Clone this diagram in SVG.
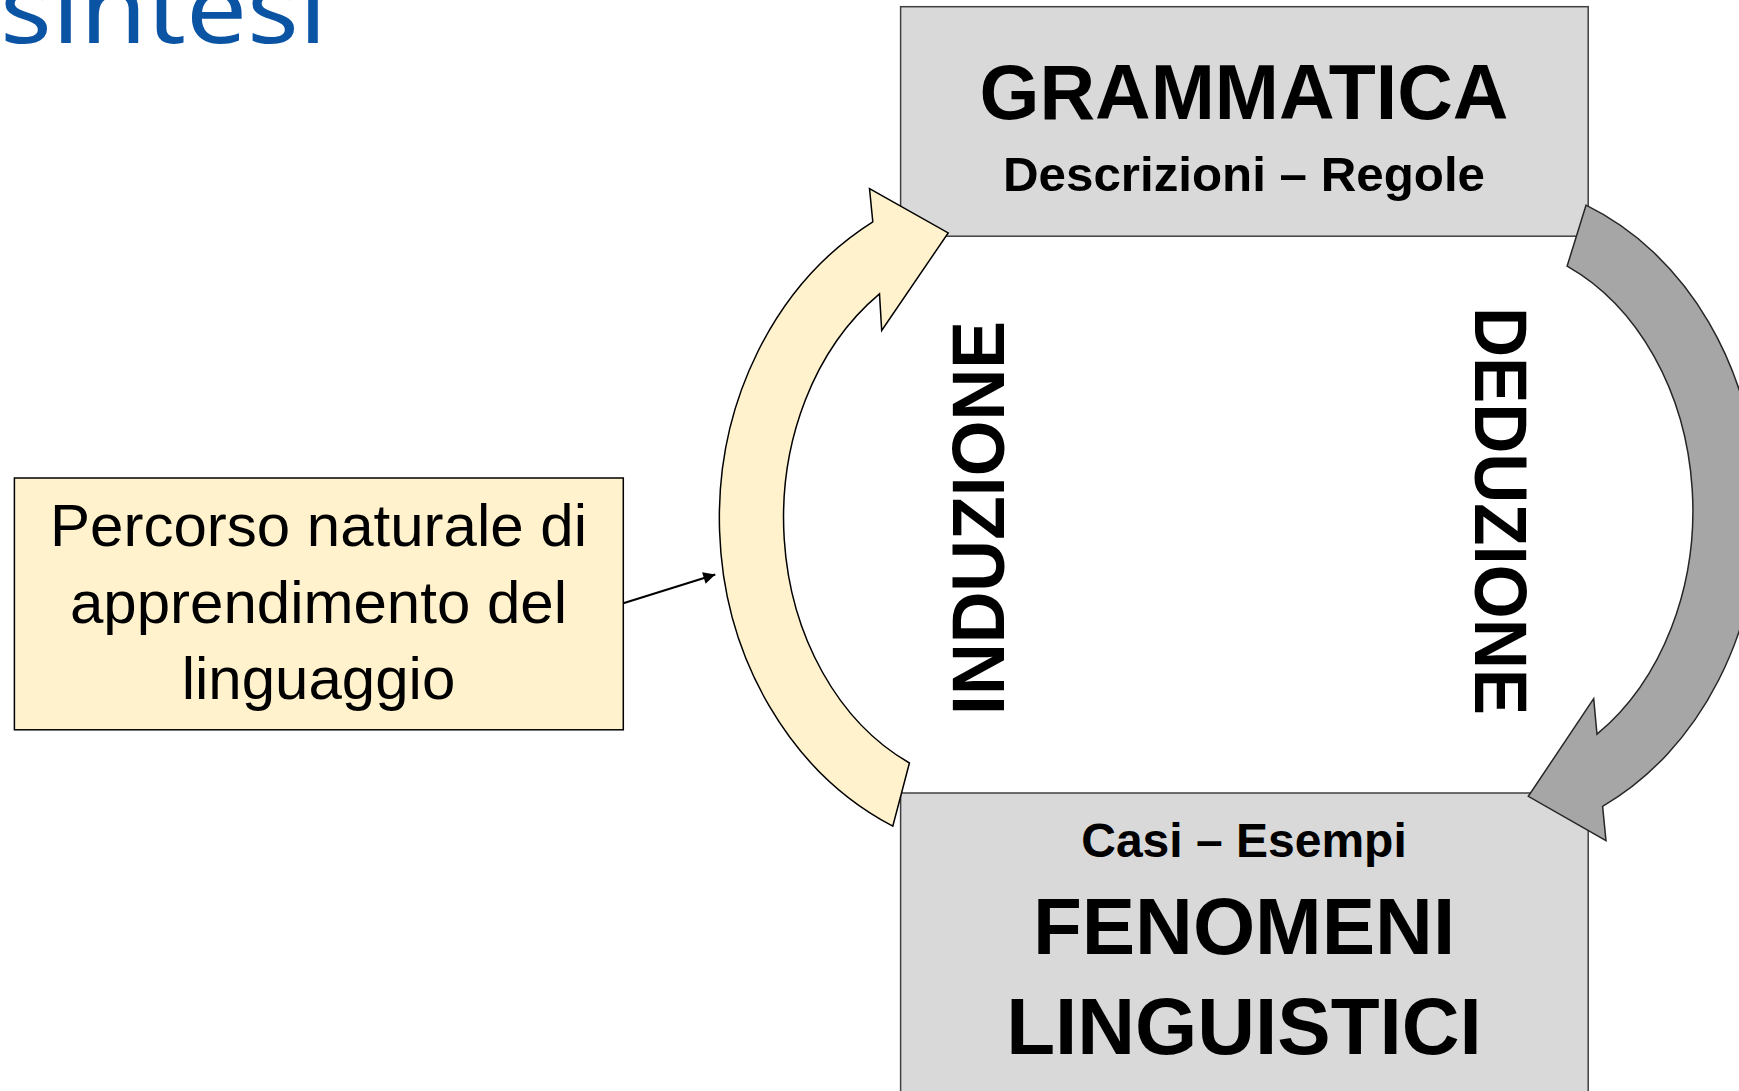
<svg xmlns="http://www.w3.org/2000/svg" width="1739" height="1091" viewBox="0 0 1739 1091">
<defs>
<style>
.box{fill:#D9D9D9;stroke:#404040;stroke-width:1.5}
.note{fill:#FFF2CC;stroke:#000;stroke-width:1.5}
.b{font-family:"Liberation Sans",Arial,sans-serif;font-weight:bold;fill:#000;text-anchor:middle}
.r{font-family:"Liberation Sans",Arial,sans-serif;fill:#000;text-anchor:middle}
.arrY{fill:#FFF2CC;stroke:#000;stroke-width:1.5;stroke-linejoin:miter}
.arrG{fill:#A6A6A6;stroke:#262626;stroke-width:1.5;stroke-linejoin:miter}
</style>
<marker id="ah2" viewBox="0 0 10 10" refX="10" refY="5" markerWidth="14" markerHeight="12" orient="auto" markerUnits="userSpaceOnUse">
<path d="M0,0 L10,5 L0,10 Z" fill="#000"/>
</marker>
</defs>
<rect width="1739" height="1091" fill="#fff"/>
<text x="0" y="43" font-family="'Noto Sans','Open Sans',sans-serif" font-size="96" fill="#0B54A4" textLength="327" lengthAdjust="spacingAndGlyphs">sintesi</text>

<g id="grammatica">
<rect class="box" x="900.6" y="6.7" width="687.6" height="229.5"/>
<text class="b" x="1244" y="119" font-size="77">GRAMMATICA</text>
<text class="b" x="1244" y="191" font-size="48" textLength="482" lengthAdjust="spacingAndGlyphs">Descrizioni – Regole</text>
</g>

<g id="fenomeni">
<rect class="box" x="900.6" y="793" width="687.6" height="320"/>
<text class="b" x="1244" y="857" font-size="48">Casi – Esempi</text>
<text class="b" x="1244" y="954" font-size="80">FENOMENI</text>
<text class="b" x="1244" y="1054" font-size="80">LINGUISTICI</text>
</g>

<g id="percorso">
<rect class="note" x="14.4" y="478" width="608.9" height="251.8"/>
<text class="r" x="318.5" y="546" font-size="60">Percorso naturale di</text>
<text class="r" x="318.5" y="623" font-size="60">apprendimento del</text>
<text class="r" x="318.5" y="699" font-size="60">linguaggio</text>
</g>

<g id="connectors">
<line x1="623.3" y1="603.3" x2="715.3" y2="574.5" stroke="#000" stroke-width="2" marker-end="url(#ah2)"/>
<g id="induzione">
<path class="arrY" d="M892.8,826.2 A298,339 0 0 1 872.8,221.8 L869.5,188.5 L948.2,232.9 L881.7,330.5 L879.5,293.9 A217,270 0 0 0 909.4,763 Z"/>
<text class="b" transform="translate(1004,518) rotate(-90)" font-size="74" textLength="394" lengthAdjust="spacingAndGlyphs">INDUZIONE</text>
</g>
<g id="deduzione">
<path class="arrG" d="M1586,205.2 A279,330 0 0 1 1602.6,806.3 L1606,840.7 L1528.3,796.3 L1593.7,698.7 L1597,734.2 A213.5,268 0 0 0 1567.1,266.2 Z"/>
<text class="b" transform="translate(1475,511) rotate(90)" font-size="74" textLength="408" lengthAdjust="spacingAndGlyphs">DEDUZIONE</text>
</g>
</g>
</svg>
